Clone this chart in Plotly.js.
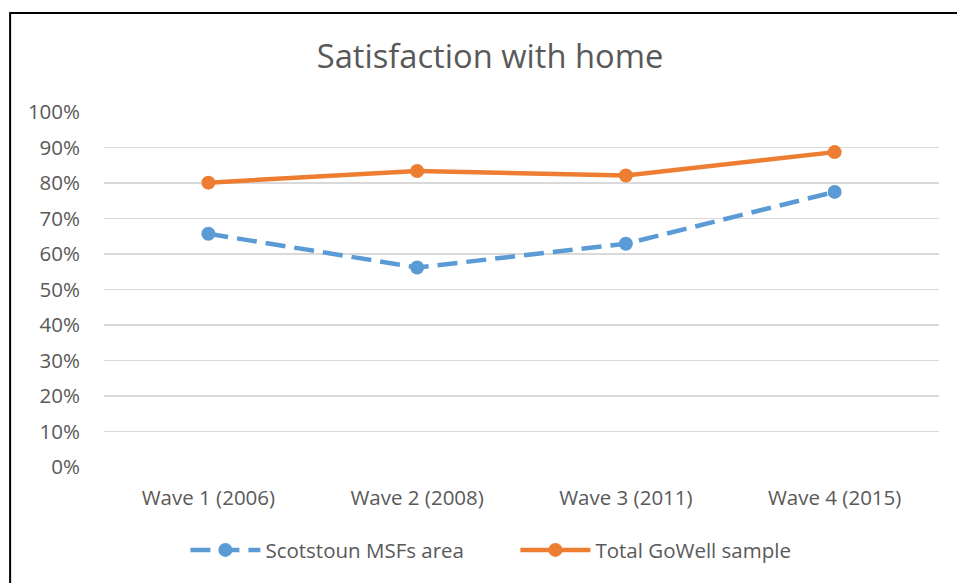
<!DOCTYPE html>
<html>
<head>
<meta charset="utf-8">
<script src="https://cdn.plot.ly/plotly-3.0.1.min.js"></script>
<style>html,body{margin:0;padding:0;background:#fff;}#chart{width:957px;height:583px;}</style>
</head>
<body>
<div id="chart"></div>
<script>
const categories = ["Wave 1 (2006)", "Wave 2 (2008)", "Wave 3 (2011)", "Wave 4 (2015)"];
const scotstoun = [0.657, 0.562, 0.629, 0.775];
const gowell = [0.801, 0.834, 0.821, 0.887];
const seriesNames = ["Scotstoun MSFs area", "Total GoWell sample"];
const yTicks = [0, 0.1, 0.2, 0.3, 0.4, 0.5, 0.6, 0.7, 0.8, 0.9, 1.0];
const yTickLabels = ["0%", "10%", "20%", "30%", "40%", "50%", "60%", "70%", "80%", "90%", "100%"];

const font = "'Open Sans', Lato, sans-serif";
const traces = [
  {x: categories, y: scotstoun, name: seriesNames[0], type: "scatter", mode: "lines+markers",
   line: {color: "#5b9bd5", width: 4.5, dash: "20px,9px"},
   marker: {color: "#5b9bd5", size: 14}},
  {x: categories, y: gowell, name: seriesNames[1], type: "scatter", mode: "lines+markers",
   line: {color: "#ed7d31", width: 4.5},
   marker: {color: "#ed7d31", size: 14}}
];
const layout = {
  width: 957, height: 583,
  margin: {l: 103.5, r: 17.5, t: 112, b: 116, autoexpand: false},
  paper_bgcolor: "#fff", plot_bgcolor: "#fff",
  font: {family: font, color: "#595959", size: 20.5},
  title: {text: "Satisfaction with home", font: {family: font, size: 32.7, color: "#595959"},
          x: 490 / 957, xanchor: "center", xref: "container", y: 1 - 57/583, yanchor: "middle"},
  xaxis: {type: "category", range: [-0.5, 3.5], showgrid: false, zeroline: false,
          showline: false, ticks: "", ticklabelstandoff: 16, tickfont: {size: 20.5, color: "#595959"}},
  yaxis: {range: [0, 1.0], tickvals: yTicks, ticktext: yTickLabels, showgrid: true,
          gridcolor: "#d9d9d9", gridwidth: 1.5, zeroline: false, showline: false,
          ticks: "", ticklabelstandoff: 23, tickfont: {size: 20.5, color: "#595959"}},
  showlegend: true,
  legend: {orientation: "h", x: (185 - 103.5) / 836, xanchor: "left", y: -0.234, yanchor: "middle",
           font: {size: 20.5, color: "#595959"}, itemwidth: 70, entrywidth: 245, entrywidthmode: "pixels",
           bgcolor: "rgba(0,0,0,0)"},
  shapes: [{type: "rect", xref: "paper", yref: "paper",
            x0: (9.5 - 103.5) / 836, x1: 1.2, y0: -0.6, y1: (467 - 13) / 355,
            line: {color: "#000", width: 2}, fillcolor: "rgba(0,0,0,0)", layer: "above"}]
};
Plotly.newPlot("chart", traces, layout, {displayModeBar: false, staticPlot: true});
</script>
</body>
</html>
